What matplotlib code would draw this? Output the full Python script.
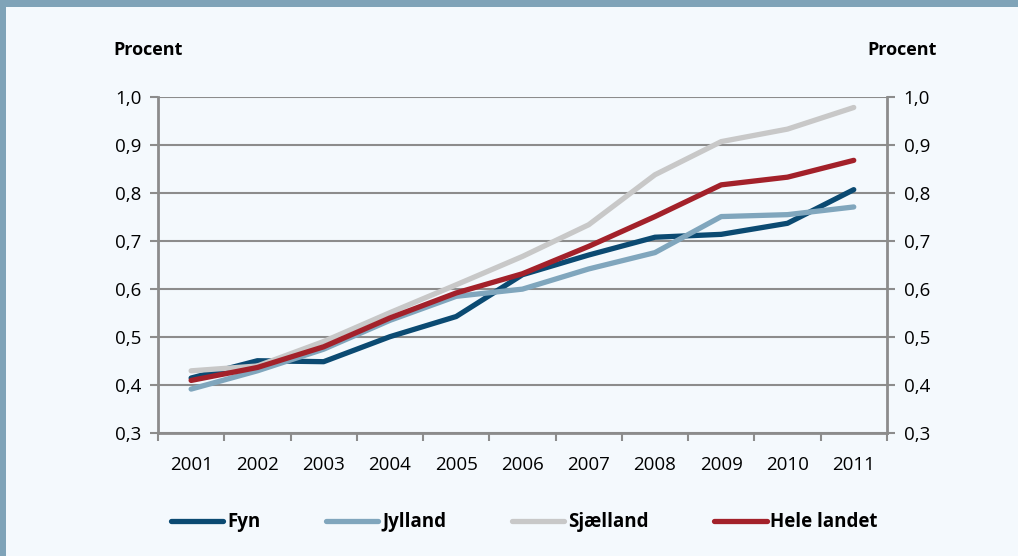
import matplotlib.pyplot as plt
from matplotlib.patches import Rectangle

# data
years = ['2001', '2002', '2003', '2004', '2005', '2006', '2007', '2008', '2009', '2010', '2011']
fyn = [0.415, 0.451, 0.449, 0.501, 0.543, 0.630, 0.671, 0.708, 0.714, 0.737, 0.807]
jylland = [0.392, 0.430, 0.475, 0.535, 0.585, 0.600, 0.642, 0.676, 0.751, 0.755, 0.771]
sjaelland = [0.430, 0.440, 0.491, 0.551, 0.609, 0.668, 0.734, 0.838, 0.907, 0.933, 0.978]
hele = [0.410, 0.437, 0.480, 0.540, 0.592, 0.632, 0.689, 0.751, 0.817, 0.833, 0.868]
yticks = [0.3, 0.4, 0.5, 0.6, 0.7, 0.8, 0.9, 1.0]

series = [('Fyn', fyn, '#0b4a72'),
          ('Jylland', jylland, '#80a6bd'),
          ('Sjælland', sjaelland, '#c8c8c8'),
          ('Hele landet', hele, '#a3212a')]

plt.rcParams['font.family'] = ['Open Sans', 'DejaVu Sans']
bg = '#f4f9fd'
frame = '#7fa3b8'
grid = '#8c8c8c'

fig = plt.figure(figsize=(10.18, 5.56), dpi=100, facecolor=bg)
ax = fig.add_axes([0.1552, 0.2207, 0.716, 0.605])
ax.set_facecolor(bg)

# frame of the box
fig.add_artist(Rectangle((0, 1 - 7 / 556), 1, 7 / 556, transform=fig.transFigure,
                         color=frame, lw=0))
fig.add_artist(Rectangle((0, 0), 6 / 1018, 1, transform=fig.transFigure,
                         color=frame, lw=0))

x = [i + 0.5 for i in range(len(years))]
for name, vals, col in series:
    ax.plot(x, vals, color=col, lw=3.8, label=name, solid_capstyle='round', zorder=3)

ax.set_xlim(0, len(years))
ax.set_ylim(0.3, 1.0)
ax.set_yticks(yticks)
ax.set_yticklabels([('%.1f' % v).replace('.', ',') for v in yticks])
ax.yaxis.grid(True, color=grid, lw=1.5)
ax.set_axisbelow(True)

ax.set_xticks(range(len(years) + 1))
ax.set_xticklabels([])
ax.set_xticks(x, minor=True)
ax.set_xticklabels(years, minor=True)
ax.tick_params(axis='x', which='major', length=6, width=1.5, color=grid, direction='out')
ax.tick_params(axis='x', which='minor', length=0, pad=16, labelsize=13.5)
ax.tick_params(axis='y', length=6, width=1.5, color=grid, labelsize=13.5,
               right=True, labelright=True, pad=6)

ax.spines['top'].set_visible(False)
for s in ['left', 'right', 'bottom']:
    ax.spines[s].set_color(grid)
    ax.spines[s].set_linewidth(2)

fig.text(113 / 1018, 1 - 50 / 556, 'Procent', fontsize=13, fontweight='bold', va='center')
fig.text(937 / 1018, 1 - 50 / 556, 'Procent', fontsize=13, fontweight='bold', va='center',
         ha='right')

leg = fig.legend(loc='center', bbox_to_anchor=(0.515, 0.061), ncol=4, frameon=False,
                 handlelength=2.8, columnspacing=3.5, handletextpad=0.2,
                 prop={'weight': 'bold', 'size': 13.5})

fig.savefig('out.png', dpi=100, facecolor=bg)
